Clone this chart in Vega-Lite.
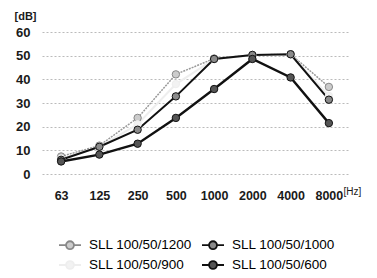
{
  "$schema": "https://vega.github.io/schema/vega-lite/v6.json",
  "width": 306,
  "height": 142,
  "autosize": "none",
  "padding": {"left": 42, "top": 32, "right": 29, "bottom": 104},
  "background": "white",
  "config": {
    "font": "Liberation Sans",
    "view": {"stroke": null},
    "axis": {"labelFont": "Liberation Sans", "labelFontWeight": "bold", "labelFontSize": 12.5, "labelColor": "#1a1a1a", "titleColor": "#1a1a1a", "domain": false, "ticks": false}
  },
  "data": {"values": [
    {"f": "63", "s": "SLL 100/50/1200", "v": 7.4},
    {"f": "125", "s": "SLL 100/50/1200", "v": 12},
    {"f": "250", "s": "SLL 100/50/1200", "v": 23.7},
    {"f": "500", "s": "SLL 100/50/1200", "v": 42.1},
    {"f": "1000", "s": "SLL 100/50/1200", "v": 48.8},
    {"f": "2000", "s": "SLL 100/50/1200", "v": 50.3},
    {"f": "4000", "s": "SLL 100/50/1200", "v": 50.6},
    {"f": "8000", "s": "SLL 100/50/1200", "v": 36.8},
    {"f": "63", "s": "SLL 100/50/900", "v": 6.5},
    {"f": "125", "s": "SLL 100/50/900", "v": 11.5},
    {"f": "250", "s": "SLL 100/50/900", "v": 21},
    {"f": "500", "s": "SLL 100/50/900", "v": 38},
    {"f": "1000", "s": "SLL 100/50/900", "v": 48.5},
    {"f": "2000", "s": "SLL 100/50/900", "v": 50.2},
    {"f": "4000", "s": "SLL 100/50/900", "v": 50.5},
    {"f": "8000", "s": "SLL 100/50/900", "v": 33},
    {"f": "63", "s": "SLL 100/50/1000", "v": 6},
    {"f": "125", "s": "SLL 100/50/1000", "v": 11.5},
    {"f": "250", "s": "SLL 100/50/1000", "v": 18.7},
    {"f": "500", "s": "SLL 100/50/1000", "v": 32.8},
    {"f": "1000", "s": "SLL 100/50/1000", "v": 48.6},
    {"f": "2000", "s": "SLL 100/50/1000", "v": 50.3},
    {"f": "4000", "s": "SLL 100/50/1000", "v": 50.6},
    {"f": "8000", "s": "SLL 100/50/1000", "v": 31.4},
    {"f": "63", "s": "SLL 100/50/600", "v": 5.3},
    {"f": "125", "s": "SLL 100/50/600", "v": 8.2},
    {"f": "250", "s": "SLL 100/50/600", "v": 12.8},
    {"f": "500", "s": "SLL 100/50/600", "v": 23.7},
    {"f": "1000", "s": "SLL 100/50/600", "v": 35.9},
    {"f": "2000", "s": "SLL 100/50/600", "v": 48.6},
    {"f": "4000", "s": "SLL 100/50/600", "v": 40.8},
    {"f": "8000", "s": "SLL 100/50/600", "v": 21.5}
  ]},
  "encoding": {
    "x": {"field": "f", "type": "ordinal", "sort": null,
      "scale": {"type": "point", "padding": 0.5},
      "axis": {"labelAngle": 0, "labelPadding": 15, "grid": false, "title": "[Hz]", "titleFontSize": 10, "titleFontWeight": "normal", "titleAnchor": "start", "titleAlign": "left", "titleX": 301, "titleY": 12}},
    "y": {"field": "v", "type": "quantitative",
      "scale": {"domain": [0, 60]},
      "axis": {"values": [0, 10, 20, 30, 40, 50, 60], "labelPadding": 12, "labelFontSize": 13, "grid": true, "gridColor": "#bbb", "gridDash": [2, 2], "gridWidth": 1, "title": "[dB]", "titleAngle": 0, "titleFontSize": 11, "titleFontWeight": "bold", "titleAlign": "left", "titleBaseline": "middle", "titleX": -28, "titleY": -16}}
  },
  "layer": [
    {
      "transform": [{"filter": "datum.s == 'SLL 100/50/1200'"}],
      "mark": {"type": "line", "strokeWidth": 1.5, "strokeDash": [2, 1], "color": "#999999"},
      "encoding": {}
    },
    {
      "transform": [{"filter": "datum.s == 'SLL 100/50/900'"}],
      "mark": {"type": "line", "strokeWidth": 2, "color": "#eeeeee"},
      "encoding": {}
    },
    {
      "transform": [{"filter": "datum.s == 'SLL 100/50/1000'"}],
      "mark": {"type": "line", "strokeWidth": 2, "color": "#111111"},
      "encoding": {}
    },
    {
      "transform": [{"filter": "datum.s == 'SLL 100/50/600'"}],
      "mark": {"type": "line", "strokeWidth": 2.4, "color": "#111111"},
      "encoding": {}
    },
    {
      "mark": {"type": "point", "filled": true, "size": 55, "strokeWidth": 1, "opacity": 1},
      "encoding": {
        "fill": {"field": "s", "type": "nominal",
          "scale": {"domain": ["SLL 100/50/1200", "SLL 100/50/900", "SLL 100/50/1000", "SLL 100/50/600"], "range": ["#cccccc", "#f2f2f2", "#8a8a8a", "#555555"]},
          "legend": {"title": null, "orient": "none", "legendX": 16, "legendY": 201, "columns": 2, "columnPadding": 6, "rowPadding": 0,
            "symbolType": "M-1,0H-0.36M0.36,0H1M-0.36,0A0.36,0.36 0 1,0 0.36,0A0.36,0.36 0 1,0 -0.36,0Z",
            "symbolSize": 484, "symbolStrokeWidth": 1.8, "labelFont": "Liberation Sans", "labelFontSize": 13.5, "labelFontWeight": "normal", "labelColor": "#000", "labelOffset": 7}},
        "stroke": {"field": "s", "type": "nominal",
          "scale": {"domain": ["SLL 100/50/1200", "SLL 100/50/900", "SLL 100/50/1000", "SLL 100/50/600"], "range": ["#888888", "#eeeeee", "#111111", "#111111"]},
          "legend": {"title": null, "orient": "none", "legendX": 16, "legendY": 201, "columns": 2, "columnPadding": 6, "rowPadding": 0,
            "symbolType": "M-1,0H-0.36M0.36,0H1M-0.36,0A0.36,0.36 0 1,0 0.36,0A0.36,0.36 0 1,0 -0.36,0Z",
            "symbolSize": 484, "symbolStrokeWidth": 1.8, "labelFont": "Liberation Sans", "labelFontSize": 13.5, "labelFontWeight": "normal", "labelColor": "#000", "labelOffset": 7}}
      }
    }
  ]
}
